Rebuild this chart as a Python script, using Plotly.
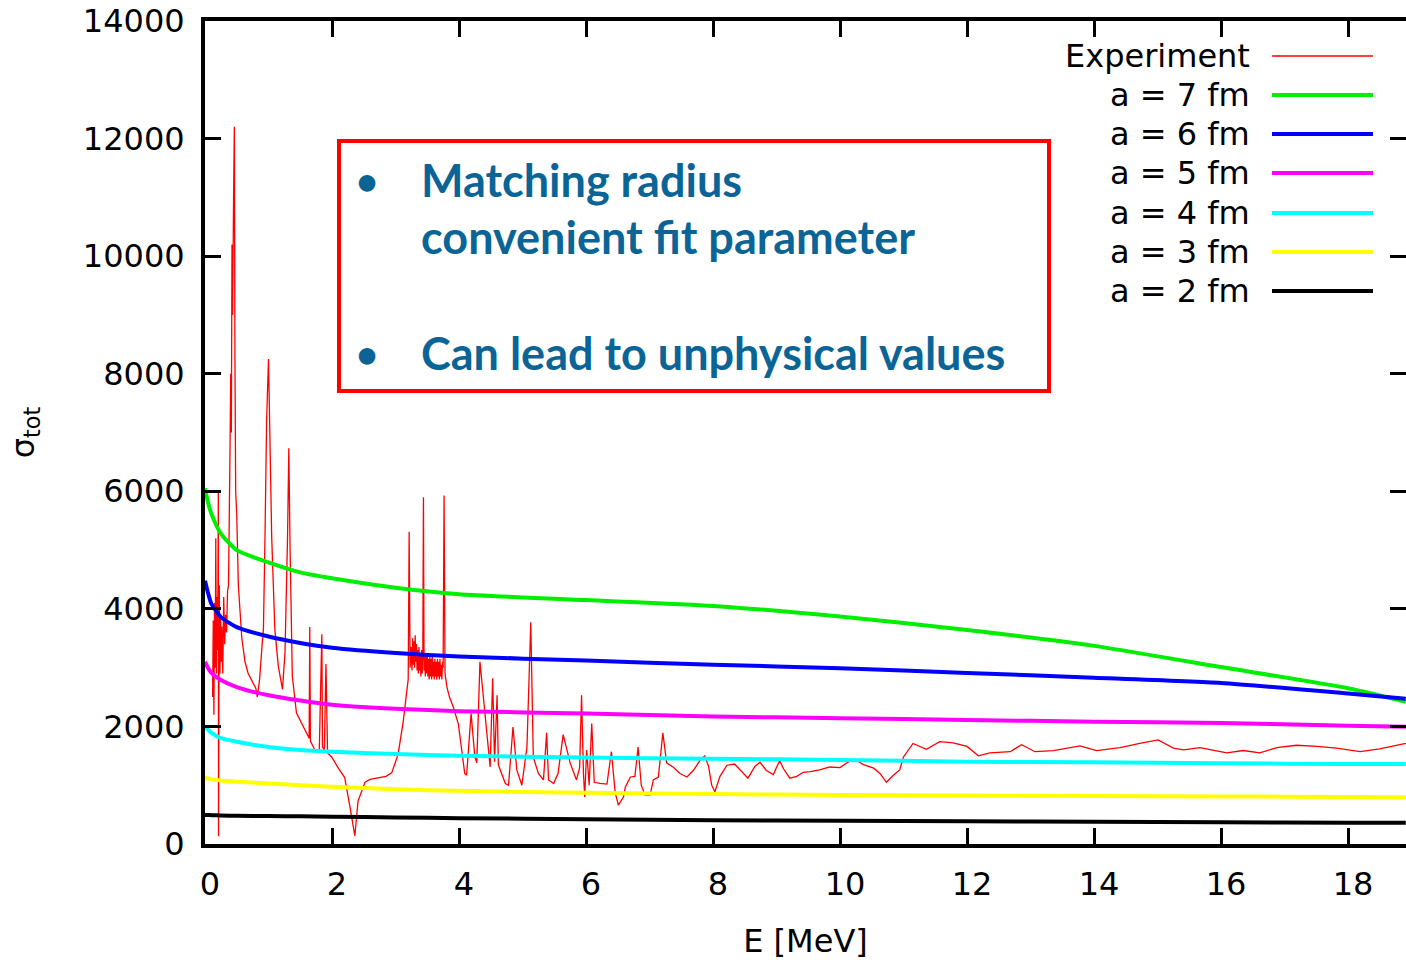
import plotly.graph_objects as go

# ---------------- data ----------------
E_theory = [0, 0.05, 0.1, 0.25, 0.5, 1, 1.5, 2, 3, 4, 6, 8, 10, 12, 14, 16, 18, 18.91]
sigma_a7 = [6050, 5800, 5620, 5280, 5000, 4790, 4620, 4520, 4360, 4250, 4150, 4050, 3870, 3640, 3370, 3010, 2650, 2420]
sigma_a6 = [4480, 4260, 4090, 3860, 3690, 3530, 3420, 3340, 3250, 3190, 3120, 3050, 2990, 2910, 2830, 2740, 2560, 2470]
sigma_a5 = [3100, 2990, 2910, 2790, 2670, 2530, 2440, 2370, 2300, 2260, 2220, 2170, 2140, 2110, 2080, 2060, 2010, 1995]
sigma_a4 = [2000, 1940, 1890, 1800, 1740, 1650, 1600, 1570, 1530, 1500, 1470, 1450, 1430, 1400, 1390, 1375, 1360, 1360]
sigma_a3 = [1130, 1115, 1100, 1080, 1060, 1030, 1000, 975, 930, 905, 870, 850, 835, 825, 815, 810, 800, 795]
sigma_a2 = [495, 493, 490, 485, 480, 475, 470, 465, 452, 440, 420, 405, 395, 385, 380, 370, 362, 360]

E_exp = [
    0.12, 0.13, 0.14, 0.15, 0.16, 0.17, 0.18, 0.19, 0.20, 0.21, 0.213, 0.218, 0.225, 0.235,
    0.245, 0.255, 0.265, 0.28, 0.295, 0.31, 0.325, 0.34, 0.355, 0.37, 0.385, 0.395, 0.405,
    0.415, 0.425, 0.435, 0.45, 0.462, 0.472, 0.483, 0.50, 0.525, 0.58, 0.63, 0.68, 0.735,
    0.80, 0.824, 0.86, 0.90, 0.92, 0.945, 0.97, 1.0, 1.02, 1.05, 1.10, 1.155, 1.22, 1.26,
    1.30, 1.32, 1.34, 1.375, 1.44, 1.50, 1.575, 1.64, 1.65, 1.66, 1.73, 1.80, 1.84, 1.85,
    1.88, 1.905, 1.93, 1.995, 2.1, 2.2, 2.28, 2.36, 2.41, 2.52, 2.6, 2.73, 2.85, 2.94, 3.04,
    3.12, 3.18, 3.20, 3.215, 3.23, 3.245, 3.26, 3.27, 3.28, 3.29, 3.30, 3.31, 3.32, 3.33,
    3.34, 3.35, 3.36, 3.37, 3.38, 3.39, 3.40, 3.41, 3.42, 3.43, 3.44, 3.45, 3.46, 3.47,
    3.48, 3.49, 3.50, 3.51, 3.52, 3.53, 3.54, 3.55, 3.56, 3.57, 3.58, 3.59, 3.60, 3.61,
    3.62, 3.63, 3.64, 3.65, 3.66, 3.67, 3.68, 3.69, 3.70, 3.71, 3.72, 3.73, 3.74, 3.75,
    3.765, 3.78, 3.81, 3.85, 3.91, 3.99,
    4.04, 4.09, 4.12, 4.19, 4.25, 4.28, 4.33, 4.41, 4.46, 4.49, 4.53, 4.56, 4.60, 4.62,
    4.65, 4.73, 4.78, 4.85, 4.91, 4.99, 5.07, 5.13, 5.17, 5.25, 5.33, 5.38, 5.41, 5.49,
    5.56, 5.64, 5.75, 5.85, 5.90, 5.93, 5.96, 5.98, 6.01, 6.05, 6.09, 6.13, 6.22, 6.33,
    6.40, 6.46, 6.51, 6.59, 6.62, 6.70, 6.77, 6.82, 6.87, 6.93, 7.01, 7.06, 7.14, 7.21,
    7.27, 7.38, 7.48, 7.59, 7.69, 7.80, 7.87, 7.93, 7.98, 8.03, 8.11, 8.22, 8.34, 8.47,
    8.55, 8.66, 8.74, 8.84, 8.95, 9.05, 9.11, 9.21, 9.32, 9.42, 9.53, 9.68, 9.84, 10.0,
    10.15, 10.26, 10.37, 10.53, 10.63, 10.73, 10.84, 10.94, 11.0, 11.15, 11.36, 11.57,
    11.78, 12.0, 12.18, 12.36, 12.68, 12.86, 13.07, 13.36, 13.78, 14.04, 14.41, 14.72,
    15.01, 15.25, 15.41, 15.67, 16.09, 16.35, 16.61, 16.88, 17.19, 17.51, 17.82, 18.19,
    18.5, 18.91,
]
sigma_exp = [
    2500, 3800, 2200, 4100, 3000, 5200, 2900, 4200, 3300, 6000, 130, 3500, 4400, 2900,
    3900, 3100, 3700, 2900, 4200, 3400, 3900, 3600, 4300, 4400, 5500, 6800, 8000,
    7000, 10200, 9000, 11000, 12200, 8200, 6000, 5600, 4400, 3500, 3100, 2900, 2780,
    2650, 2500, 2800, 3400, 3650, 5230, 7200, 8250, 6800, 5230, 3650, 3020, 2630, 3260,
    5230, 6730, 5000, 2860, 2230, 2100, 1920, 1800, 3690, 1750, 1600, 1600, 3570, 1650,
    1600, 3060, 1550, 1480, 1290, 1130, 650, 140, 730, 1050, 1100, 1130, 1150, 1210, 1520,
    2070, 2600, 2800, 5310, 3000, 3350, 2950, 3500, 3050, 3450, 3000, 3550, 3100, 3400,
    2950, 3300, 2900, 3350, 2950, 3250, 2850, 3300, 2900, 3200, 5900, 2950, 3250, 2850,
    3200, 2900, 3250, 2850, 3150, 2800, 3200, 2850, 3150, 2800, 3200, 2850, 3100, 2800,
    3150, 2850, 3100, 2800, 3150, 2850, 3100, 2800, 3150, 2850, 3050, 2800, 3100, 3000,
    5930, 2900, 2670, 2500, 2330, 2040,
    1650, 1200, 1170, 2220, 1480, 1380, 3100, 2210, 1650, 1310, 2820, 1400, 2530, 1350,
    1260, 1030, 1000, 1990, 1260, 1000, 1650, 3770, 1480, 1200, 1090, 1890, 1090, 1030,
    1200, 1860, 1380, 1090, 1300, 2530, 1200, 800, 1600, 1000, 2050, 1050, 1030, 1020,
    1570, 870, 660, 800, 970, 1140, 1150, 1650, 1000, 830, 830, 1090, 1140, 1890,
    1380, 1300, 1200, 1140, 1250, 1430, 1500, 1320, 1000, 890, 1150, 1340, 1360, 1200,
    1120, 1320, 1390, 1250, 1180, 1420, 1280, 1120, 1150, 1220, 1230, 1260, 1310, 1300,
    1410, 1420, 1350, 1290, 1200, 1050, 1170, 1260, 1480, 1710, 1610, 1740,
    1720, 1660, 1500, 1550, 1570, 1690, 1570, 1590, 1670, 1590, 1640, 1710,
    1770, 1630, 1600, 1640, 1550, 1590, 1550, 1640, 1680, 1660, 1630, 1570,
    1620, 1710,
]

series_names = ["Experiment", "a = 7 fm", "a = 6 fm", "a = 5 fm", "a = 4 fm", "a = 3 fm", "a = 2 fm"]
series_colors = ["#ff0000", "#00ee00", "#0000ff", "#ff00ff", "#00ffff", "#ffff00", "#000000"]
series_widths = [1.3, 4, 4, 4, 4, 4, 4]

x_ticks = [0, 2, 4, 6, 8, 10, 12, 14, 16, 18]
y_ticks = [0, 2000, 4000, 6000, 8000, 10000, 12000, 14000]

box_lines = ["Matching radius", "convenient fit parameter", "Can lead to unphysical values"]

# ---------------- layout helpers (pixel -> paper) ----------------
W, H = 1406, 960
L, R, T, B = 205, 1406, 21, 844
def px(x):
    return (x - L) / (R - L)
def py(y):
    return (B - y) / (B - T)

FONT = "DejaVu Sans"
FS = 32

fig = go.Figure()
theory = [sigma_a7, sigma_a6, sigma_a5, sigma_a4, sigma_a3, sigma_a2]
fig.add_trace(go.Scatter(x=E_exp, y=sigma_exp, mode="lines", name=series_names[0],
                         line=dict(color=series_colors[0], width=series_widths[0]),
                         showlegend=False))
for i, s in enumerate(theory):
    fig.add_trace(go.Scatter(x=E_theory, y=s, mode="lines", name=series_names[i + 1],
                             line=dict(color=series_colors[i + 1], width=series_widths[i + 1],
                                       shape="spline", smoothing=0.6),
                             showlegend=False))

# right-side inward ticks without a visible border
fig.add_trace(go.Scatter(x=[None], y=[None], yaxis="y2", showlegend=False, hoverinfo="skip"))

axis_common = dict(showgrid=False, zeroline=False, ticks="inside", ticklen=16, tickwidth=3,
                   tickcolor="black", tickfont=dict(family=FONT, size=FS, color="black"))

fig.update_layout(
    width=W, height=H,
    margin=dict(l=L, r=W - R, t=T, b=H - B),
    paper_bgcolor="white", plot_bgcolor="white",
    showlegend=False,
    xaxis=dict(range=[0, (R - L) / 63.5], tickvals=x_ticks, ticktext=[str(v) for v in x_ticks],
               showline=True, linecolor="black", linewidth=4, mirror="ticks",
               ticklabelstandoff=9, ticklabelshift=5,
               title=dict(text="E [MeV]", font=dict(family=FONT, size=FS, color="black"), standoff=30),
               **axis_common),
    yaxis=dict(range=[0, 14000], tickvals=y_ticks, ticktext=[str(v) for v in y_ticks],
               showline=True, linecolor="black", linewidth=4, mirror=False,
               ticklabelstandoff=10,
               title=dict(text="σ<sub>tot</sub>", font=dict(family=FONT, size=FS, color="black"), standoff=40),
               **axis_common),
    yaxis2=dict(range=[0, 14000], overlaying="y", side="right", tickvals=y_ticks,
                showticklabels=False, showline=False, showgrid=False, zeroline=False,
                ticks="inside", ticklen=16, tickwidth=3, tickcolor="black"),
)

# manual gnuplot-style key (text right-aligned, sample line on the right)
key_rows_py = [56, 95, 134, 173, 213, 252, 291]
for name, col, wdt, ry in zip(series_names, series_colors, series_widths, key_rows_py):
    fig.add_annotation(xref="paper", yref="paper", x=px(1252), y=py(ry), text=name,
                       showarrow=False, xanchor="right", yanchor="middle",
                       font=dict(family=FONT, size=FS, color="black"))
    fig.add_shape(type="line", xref="paper", yref="paper", x0=px(1272), x1=px(1373),
                  y0=py(ry), y1=py(ry), line=dict(color=col, width=wdt))

# red text box
fig.add_shape(type="rect", xref="paper", yref="paper", x0=px(339), x1=px(1049),
              y0=py(391), y1=py(141), line=dict(color="#ff0000", width=4), fillcolor="white",
              layer="above")
BLUE = "#0b6496"
for txt, ty in zip(box_lines, [180, 237, 353]):
    fig.add_annotation(xref="paper", yref="paper", x=px(419), y=py(ty), text="<b>" + txt + "</b>",
                       showarrow=False, xanchor="left", yanchor="middle",
                       font=dict(family="Lato", size=45, color=BLUE))
for ty in [180, 353]:
    fig.add_annotation(xref="paper", yref="paper", x=px(367), y=py(ty), text="<b>•</b>",
                       showarrow=False, xanchor="center", yanchor="middle",
                       font=dict(family="Lato", size=38, color=BLUE))

fig.write_html("out.html")
